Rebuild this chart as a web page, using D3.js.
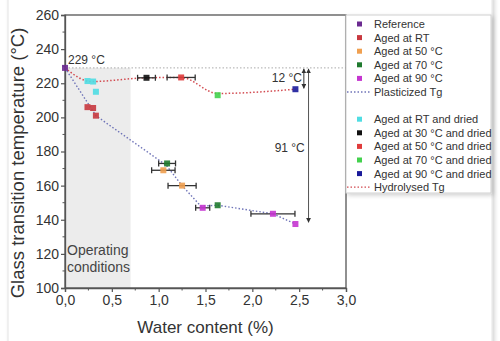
<!DOCTYPE html>
<html><head><meta charset="utf-8">
<script src="https://cdn.jsdelivr.net/npm/d3@7"></script>
<style>
html,body{margin:0;padding:0;background:#fff;}
svg{display:block;font-family:"Liberation Sans",Arial,sans-serif;}
</style></head>
<body><svg id="c" width="500" height="341"></svg>
<script>
// ---- data ----
const xTicks = [0, 0.5, 1, 1.5, 2, 2.5, 3];
const yTicks = [100, 120, 140, 160, 180, 200, 220, 240, 260];
// [water content, Tg, x error half-width]
const reference    = [[0, 229, 0]];
const agedRT       = [[0.24, 206, 0], [0.30, 205.5, 0], [0.33, 201, 0]];
const aged50       = [[1.05, 169, 0.125], [1.25, 160, 0.15]];
const aged70       = [[1.09, 173, 0.09], [1.63, 148.5, 0]];
const aged90       = [[1.47, 147, 0.075], [2.22, 143.5, 0.235], [2.46, 137.5, 0]];
const agedRTdried  = [[0.24, 221.3, 0], [0.30, 221, 0], [0.33, 215, 0]];
const aged30dried  = [[0.87, 223.2, 0.095]];
const aged50dried  = [[1.24, 223.4, 0.15]];
const aged70dried  = [[1.63, 213, 0]];
const aged90dried  = [[2.46, 216.5, 0]];
const plasticizedTg = [[0, 229], [0.33, 201], [1.08, 172], [1.25, 160], [1.45, 148], [1.63, 148.5], [2.22, 143.5], [2.46, 137.5]];
const hydrolysedTg  = [[0, 229], [0.28, 221], [0.87, 223.2], [1.24, 223.4], [1.63, 214], [2.46, 216.5]];
const operatingX = [0, 0.7];
const refTg = 229;
const drop12 = [229, 217];
const drop91 = [229, 138.5];

const seriesNames  = ["Reference","Aged at RT","Aged at 50 °C","Aged at 70 °C","Aged at 90 °C",
  "Aged at RT and dried","Aged at 30 °C and dried","Aged at 50 °C and dried","Aged at 70 °C and dried","Aged at 90 °C and dried"];
const seriesData   = [reference, agedRT, aged50, aged70, aged90, agedRTdried, aged30dried, aged50dried, aged70dried, aged90dried];
const seriesColors = ["#6b2a90","#c8383f","#f0a050","#1f7a2e","#c535d0","#4fdde3","#111111","#e03b3b","#43d14d","#1a1a9a"];

// ---- chart ----
const svg = d3.select("#c");
const defs = svg.append("defs");
const f = defs.append("filter").attr("id","sh").attr("x","-10%").attr("y","-10%").attr("width","130%").attr("height","130%");
f.append("feDropShadow").attr("dx",2).attr("dy",2).attr("stdDeviation",2).attr("flood-color","#000").attr("flood-opacity",0.18);
defs.append("marker").attr("id","arr").attr("viewBox","0 0 10 10").attr("refX",9).attr("refY",5)
  .attr("markerWidth",5).attr("markerHeight",5).attr("orient","auto-start-reverse")
  .append("path").attr("d","M0,0 L10,5 L0,10 z").attr("fill","#333");

// faint page frame
svg.append("rect").attr("x",8).attr("y",-5).attr("width",484).attr("height",360)
  .attr("fill","#fff").attr("stroke","#e4e4e4").attr("filter","url(#sh)");

const x = d3.scaleLinear().domain([0,3]).range([65,346]);
const y = d3.scaleLinear().domain([100,260]).range([288,15]);
const fmt = d => d3.format(".1f")(d).replace(".", ",");

// operating region
svg.append("rect").attr("x",x(operatingX[0])).attr("y",y(refTg))
  .attr("width",x(operatingX[1])-x(operatingX[0])).attr("height",y(100)-y(refTg))
  .attr("fill","#ececec");
svg.append("text").attr("x",x(0)+2).attr("y",y(120)+1).attr("font-size",14).attr("fill","#444").text("Operating");
svg.append("text").attr("x",x(0)+2).attr("y",y(110)+1).attr("font-size",14).attr("fill","#444").text("conditions");

// 229 reference line
svg.append("line").attr("x1",x(0)).attr("x2",x(3)).attr("y1",y(refTg)).attr("y2",y(refTg))
  .attr("stroke","#aaa").attr("stroke-width",1).attr("stroke-dasharray","1.5,2");

// frame
svg.append("rect").attr("x",x(0)).attr("y",y(260)).attr("width",x(3)-x(0)).attr("height",y(100)-y(260))
  .attr("fill","none").attr("stroke","#555").attr("stroke-width",1.3);

// axes
const xAxis = d3.axisBottom(x).tickValues(xTicks).tickFormat(fmt).tickSize(4).tickPadding(3);
const gx = svg.append("g").attr("transform",`translate(0,${y(100)})`).call(xAxis);
const yAxis = d3.axisLeft(y).tickValues(yTicks).tickSize(4).tickPadding(2);
const gy = svg.append("g").attr("transform",`translate(${x(0)},0)`).call(yAxis);
[gx,gy].forEach(g=>{
  g.select(".domain").attr("stroke","#555").attr("stroke-width",1.3);
  g.selectAll(".tick line").attr("stroke","#555").attr("stroke-width",1.2);
  g.selectAll("text").attr("font-size",14).attr("fill","#333").attr("font-family","Liberation Sans, Arial, sans-serif");
});
// minor ticks
svg.append("g").selectAll("line").data(d3.range(0.25,3,0.5)).join("line")
  .attr("x1",d=>x(d)).attr("x2",d=>x(d)).attr("y1",y(100)).attr("y2",y(100)+2.5).attr("stroke","#555");
svg.append("g").selectAll("line").data(d3.range(110,260,20)).join("line")
  .attr("x1",x(0)).attr("x2",x(0)-2.5).attr("y1",d=>y(d)).attr("y2",d=>y(d)).attr("stroke","#555");

// axis titles
svg.append("text").attr("x",(x(0)+x(3))/2).attr("y",333).attr("text-anchor","middle")
  .attr("font-size",17).attr("fill","#333").text("Water content (%)");
svg.append("text").attr("transform",`translate(24,163) rotate(-90)`).attr("text-anchor","middle")
  .attr("font-size",18.5).attr("fill","#333").text("Glass transition temperature (°C)");

// fitted lines
const lineLin = d3.line().x(d=>x(d[0])).y(d=>y(d[1]));
const lineSmooth = d3.line().x(d=>x(d[0])).y(d=>y(d[1])).curve(d3.curveMonotoneX);
svg.append("path").attr("d",lineLin(plasticizedTg)).attr("fill","none").attr("stroke","#6f74b8")
  .attr("stroke-width",1.4).attr("stroke-dasharray","1.5,2");
svg.append("path").attr("d",lineSmooth(hydrolysedTg)).attr("fill","none").attr("stroke","#d24a50")
  .attr("stroke-width",1.5).attr("stroke-dasharray","1.5,2");

// error bars
const allPts = [];
seriesData.forEach((arr,i)=>arr.forEach(p=>allPts.push({p, c: seriesColors[i]})));
const eb = svg.append("g").attr("stroke","#333").attr("stroke-width",1.3);
allPts.filter(d=>d.p[2]>0).forEach(d=>{
  const [px,py,e] = d.p;
  eb.append("line").attr("x1",x(px-e)).attr("x2",x(px+e)).attr("y1",y(py)).attr("y2",y(py));
  eb.append("line").attr("x1",x(px-e)).attr("x2",x(px-e)).attr("y1",y(py)-3).attr("y2",y(py)+3);
  eb.append("line").attr("x1",x(px+e)).attr("x2",x(px+e)).attr("y1",y(py)-3).attr("y2",y(py)+3);
});

// markers
const ms = 6;
svg.append("g").selectAll("rect").data(allPts).join("rect")
  .attr("x",d=>x(d.p[0])-ms/2).attr("y",d=>y(d.p[1])-ms/2).attr("width",ms).attr("height",ms)
  .attr("fill",d=>d.c).attr("opacity",0.9);

// annotations
svg.append("text").attr("x",x(0)+3).attr("y",y(refTg)-4).attr("font-size",12).attr("fill","#333").text("229 °C");
svg.append("line").attr("x1",x(2.55)).attr("x2",x(2.55)).attr("y1",y(drop12[0])+1).attr("y2",y(drop12[1]))
  .attr("stroke","#333").attr("stroke-width",1).attr("marker-start","url(#arr)").attr("marker-end","url(#arr)");
svg.append("line").attr("x1",x(2.6)).attr("x2",x(2.6)).attr("y1",y(drop91[0])+1).attr("y2",y(drop91[1]))
  .attr("stroke","#555").attr("stroke-width",1).attr("marker-start","url(#arr)").attr("marker-end","url(#arr)");
svg.append("text").attr("x",x(2.53)).attr("y",y(221)).attr("text-anchor","end").attr("font-size",12).attr("fill","#333").text("12 °C");
svg.append("text").attr("x",x(2.56)).attr("y",y(182)+4).attr("text-anchor","end").attr("font-size",12).attr("fill","#333").text("91 °C");

// legend
const lg = svg.append("g").attr("transform",`translate(${x(3)},${y(260)})`);
lg.append("rect").attr("width",145).attr("height",178).attr("fill","#fff").attr("stroke","#d0d0d0").attr("filter","url(#sh)");
const legendItems = [
  ...seriesNames.slice(0,5).map((n,i)=>({n, c:seriesColors[i], t:"m"})),
  {n:"Plasticized Tg", c:"#6f74b8", t:"l"},
  null,
  ...seriesNames.slice(5).map((n,i)=>({n, c:seriesColors[i+5], t:"m"})),
  {n:"Hydrolysed Tg", c:"#d24a50", t:"l"}
];
legendItems.forEach((it,i)=>{
  if(!it) return;
  const yy = 9 + i*13.6;
  if(it.t==="m"){
    lg.append("rect").attr("x",11).attr("y",yy-2.5).attr("width",5).attr("height",5).attr("fill",it.c);
  } else {
    lg.append("line").attr("x1",1).attr("x2",25).attr("y1",yy).attr("y2",yy).attr("stroke",it.c)
      .attr("stroke-width",1.3).attr("stroke-dasharray","1.5,2");
  }
  lg.append("text").attr("x",28).attr("y",yy+4).attr("font-size",11).attr("fill","#333").text(it.n);
});
</script></body></html>
